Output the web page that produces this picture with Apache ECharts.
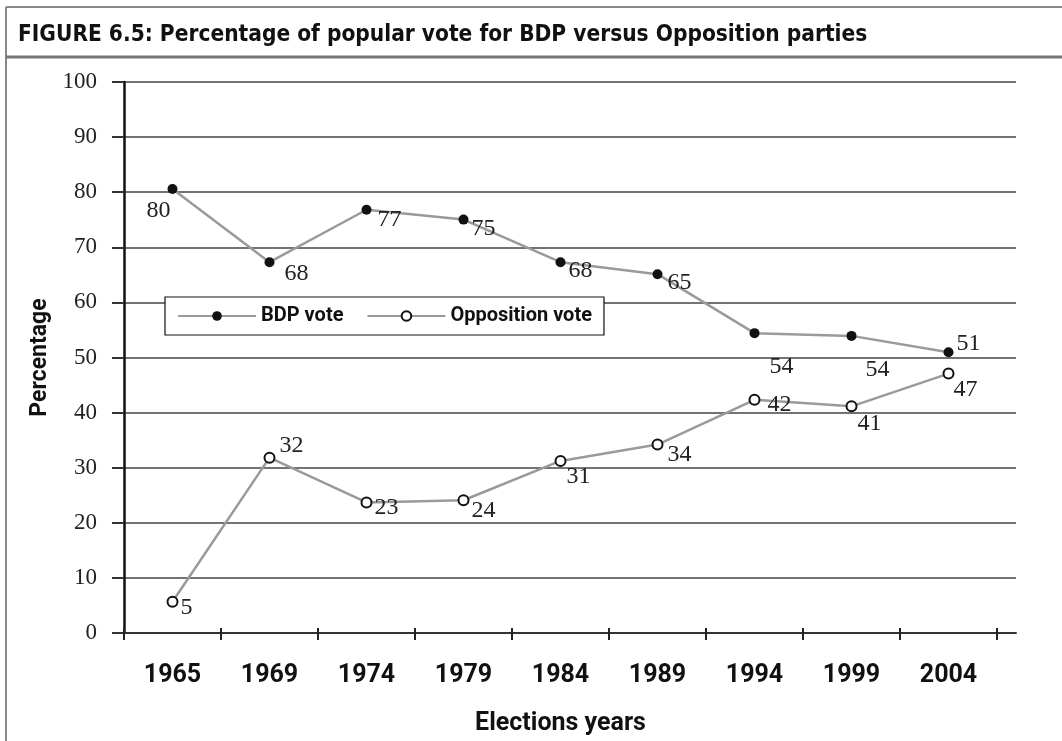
<!DOCTYPE html>
<html>
<head>
<meta charset="utf-8">
<script src="https://cdn.jsdelivr.net/npm/echarts@6/dist/echarts.min.js"></script>
<style>
  html, body { margin: 0; padding: 0; background: #fff; }
  #chart { width: 1062px; height: 741px; }
</style>
</head>
<body>
<div id="chart"></div>
<script>
// election years on the category axis
const years = ['1965', '1969', '1974', '1979', '1984', '1989', '1994', '1999', '2004'];

// share of popular vote (%)
const bdpVote = [80.4, 67.0, 76.6, 74.8, 67.0, 64.8, 54.0, 53.5, 50.5];
const oppVote = [4.8, 31.2, 23.0, 23.4, 30.6, 33.6, 41.8, 40.6, 46.6];

// printed point labels
const bdpLabels = ['80', '68', '77', '75', '68', '65', '54', '54', '51'];
const oppLabels = ['5', '32', '23', '24', '31', '34', '42', '41', '47'];

// value axis range
const yMin = 0;
const yMax = 100;
const yStep = 10;

const SERIF = "'Liberation Serif', 'DejaVu Serif', serif";
const SANS = "Roboto, 'Noto Sans', sans-serif";
const NARROW = "'Liberation Sans Narrow', 'DejaVu Sans Condensed', sans-serif";

// where each point label sits relative to its marker
const bdpNudge = [[-14, 22], [27, 12], [23, 10], [20, 9], [20, 9], [22, 9], [27, 34], [26, 34], [20, -9]];
const oppNudge = [[14, 6], [22, -12], [20, 5], [20, 10], [18, 16], [22, 10], [25, 5], [18, 17], [17, 16]];

function withLabels(values, labels, nudge) {
  return values.map((v, i) => ({
    value: v,
    label: { formatter: labels[i], offset: nudge[i] }
  }));
}

const chart = echarts.init(document.getElementById('chart'), null, { renderer: 'canvas' });

chart.setOption({
  animation: false,
  backgroundColor: '#fff',
  title: {
    text: 'FIGURE 6.5: Percentage of popular vote for BDP versus Opposition parties',
    left: 18,
    top: 24,
    padding: 0,
    textStyle: { fontFamily: NARROW, fontWeight: 'bold', fontSize: 22.5, color: '#111' }
  },
  graphic: [
    // frame round the figure
    { type: 'line', shape: { x1: 6, y1: 7, x2: 1062, y2: 7 }, style: { stroke: '#888', lineWidth: 2 } },
    { type: 'line', shape: { x1: 6, y1: 7, x2: 6, y2: 741 }, style: { stroke: '#888', lineWidth: 2 } },
    { type: 'line', shape: { x1: 6, y1: 57, x2: 1062, y2: 57 }, style: { stroke: '#777', lineWidth: 3 } }
  ],
  legend: {
    left: 165,
    top: 297,
    padding: [9, 12, 9, 12],
    itemWidth: 78,
    itemHeight: 12,
    itemGap: 23,
    backgroundColor: '#fff',
    borderColor: '#111',
    borderWidth: 1.2,
    textStyle: { fontFamily: SANS, fontWeight: 'bold', fontSize: 20, color: '#111' },
    data: ['BDP vote', 'Opposition vote']
  },
  grid: [
    { left: 124, right: 46, top: 82, bottom: 108 },
    { left: 124, right: 65, top: 82, bottom: 108 }
  ],
  xAxis: [
    {
      gridIndex: 0, type: 'value', min: 0, max: 1,
      axisLine: { show: true, lineStyle: { color: '#333', width: 2 } },
      axisTick: { show: false }, axisLabel: { show: false }, splitLine: { show: false }
    },
    {
      gridIndex: 1, type: 'category', data: years, boundaryGap: true, offset: 3,
      axisLine: { show: false },
      axisTick: { show: true, length: 12, lineStyle: { color: '#222', width: 2 } },
      axisLabel: { margin: 32, fontFamily: SANS, fontWeight: 'bold', fontSize: 25, color: '#111' },
      name: 'Elections years', nameLocation: 'middle', nameGap: 80,
      nameTextStyle: { fontFamily: SANS, fontWeight: 'bold', fontSize: 25, color: '#111' }
    }
  ],
  yAxis: [
    {
      gridIndex: 0, type: 'value', min: yMin, max: yMax, interval: yStep,
      axisLine: { show: true, lineStyle: { color: '#111', width: 2.5 } },
      axisTick: { show: true, length: 12, lineStyle: { color: '#333', width: 2 } },
      splitLine: { show: true, lineStyle: { color: '#444', width: 1.5 } },
      axisLabel: { margin: 27, fontFamily: SERIF, fontSize: 23, color: '#222' },
      name: 'Percentage', nameLocation: 'middle', nameGap: 62,
      nameTextStyle: { fontFamily: SANS, fontWeight: 'bold', fontSize: 23, color: '#111' }
    },
    { gridIndex: 1, type: 'value', min: yMin, max: yMax, show: false }
  ],
  series: [
    {
      name: 'BDP vote', type: 'line', xAxisIndex: 1, yAxisIndex: 1,
      data: withLabels(bdpVote, bdpLabels, bdpNudge),
      symbol: 'circle', symbolSize: 10,
      itemStyle: { color: '#111' },
      lineStyle: { color: '#9a9a9a', width: 2.5 },
      label: { show: true, position: 'inside', fontFamily: SERIF, fontSize: 24, color: '#222' },
      z: 3
    },
    {
      name: 'Opposition vote', type: 'line', xAxisIndex: 1, yAxisIndex: 1,
      data: withLabels(oppVote, oppLabels, oppNudge),
      symbol: 'emptyCircle', symbolSize: 10,
      itemStyle: { color: '#111', borderWidth: 2.5 },
      lineStyle: { color: '#9a9a9a', width: 2.5 },
      label: { show: true, position: 'inside', fontFamily: SERIF, fontSize: 24, color: '#222' },
      z: 3
    }
  ]
});
</script>
</body>
</html>
